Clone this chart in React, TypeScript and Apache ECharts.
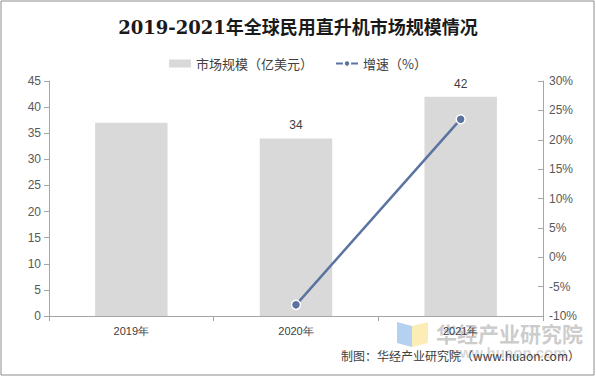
import React, { useEffect, useRef } from "react";
import * as echarts from "echarts";

const categories = ["2019年", "2020年", "2021年"];
const marketSize = [37, 34, 42];
const growth: (number | null)[] = [null, -8.1, 23.5];
const leftTicks = [0, 45, 5];
const rightTicks = [-10, 30, 5];

export default function App() {
  const ref = useRef<HTMLDivElement>(null);
  useEffect(() => {
    const chart = echarts.init(ref.current!, undefined, { renderer: "svg" });
    const axisColor = "#a6a6a6";
    const labelColor = "#595959";
    chart.setOption({
      animation: false,
      backgroundColor: "#fff",
      title: {
        text: "2019-2021年全球民用直升机市场规模情况",
        left: "center",
        top: 13,
        textStyle: {
          fontFamily: "'DejaVu Serif', 'Noto Sans CJK SC', serif",
          fontSize: 18,
          fontWeight: "bold",
          color: "#1a1a1a",
        },
      },
      legend: {
        top: 52,
        left: "center",
        itemGap: 22,
        itemWidth: 22,
        itemHeight: 8,
        textStyle: { fontSize: 13, color: "#404040", fontFamily: "'Noto Sans CJK SC', sans-serif" },
        data: [
          { name: "市场规模（亿美元）", icon: "rect" },
          { name: "增速（%）" },
        ],
      },
      grid: { left: 49, right: 53, top: 81, bottom: 61 },
      xAxis: {
        type: "category",
        data: categories,
        axisLine: { lineStyle: { color: axisColor } },
        axisTick: { show: true, alignWithLabel: false, length: 5, lineStyle: { color: axisColor } },
        axisLabel: { color: "#404040", fontSize: 11, margin: 9, fontFamily: "'Liberation Sans', Arial, sans-serif" },
      },
      yAxis: [
        {
          type: "value",
          min: leftTicks[0],
          max: leftTicks[1],
          interval: leftTicks[2],
          splitLine: { show: false },
          axisLine: { show: true, lineStyle: { color: axisColor } },
          axisTick: { show: true, length: 5, lineStyle: { color: axisColor } },
          axisLabel: { color: labelColor, fontSize: 12, margin: 8, fontFamily: "'Liberation Sans', Arial, sans-serif" },
        },
        {
          type: "value",
          min: rightTicks[0],
          max: rightTicks[1],
          interval: rightTicks[2],
          splitLine: { show: false },
          axisLine: { show: true, lineStyle: { color: axisColor } },
          axisTick: { show: true, inside: true, length: 5, lineStyle: { color: axisColor } },
          axisLabel: {
            color: labelColor,
            fontSize: 12,
            margin: 6,
            formatter: "{value}%",
            fontFamily: "'Liberation Sans', Arial, sans-serif",
          },
        },
      ],
      series: [
        {
          name: "市场规模（亿美元）",
          type: "bar",
          data: marketSize.map((v, i) => ({
            value: v,
            label: { show: i > 0 },
          })),
          barWidth: "44%",
          itemStyle: { color: "#d9d9d9" },
          label: { position: "top", color: "#404040", fontSize: 12, distance: 7, fontFamily: "'Liberation Sans', Arial, sans-serif" },
        },
        {
          name: "增速（%）",
          type: "line",
          yAxisIndex: 1,
          data: growth,
          symbol: "circle",
          symbolSize: 9,
          lineStyle: { color: "#5a73a0", width: 2.5 },
          itemStyle: { color: "#5a73a0", borderColor: "#fff", borderWidth: 1.5 },
        },
      ],
      graphic: [
        {
          type: "rect",
          shape: { x: 1, y: 1, width: 593, height: 374 },
          style: { fill: "none", stroke: "#8c8c8c", lineWidth: 1 },
          silent: true,
        },
        {
          type: "polygon",
          shape: { points: [[397, 322], [412, 326], [412, 347], [397, 343]] },
          style: { fill: "rgba(150,190,235,0.7)" },
          silent: true,
        },
        {
          type: "polygon",
          shape: { points: [[412, 326], [428, 322], [428, 343], [412, 347]] },
          style: { fill: "rgba(250,230,150,0.7)" },
          silent: true,
        },
        {
          type: "text",
          left: 436,
          top: 322,
          style: {
            text: "华经产业研究院",
            font: "bold 21px 'Noto Sans CJK SC', sans-serif",
            fill: "rgba(140,140,140,0.45)",
          },
          silent: true,
        },
        {
          type: "text",
          left: 448,
          top: 345,
          style: {
            text: "www.huaon.com",
            font: "bold 15px 'Liberation Sans', sans-serif",
            fill: "rgba(140,140,140,0.35)",
          },
          silent: true,
        },
        {
          type: "text",
          right: 16,
          top: 349,
          style: {
            text: "制图：华经产业研究院（www.huaon.com）",
            font: "12px 'Noto Sans CJK SC', sans-serif",
            fill: "#404040",
          },
          silent: true,
        },
      ],
    });
    return () => chart.dispose();
  }, []);
  return <div ref={ref} style={{ width: 596, height: 377, position: "absolute", left: 0, top: 0 }} />;
}
